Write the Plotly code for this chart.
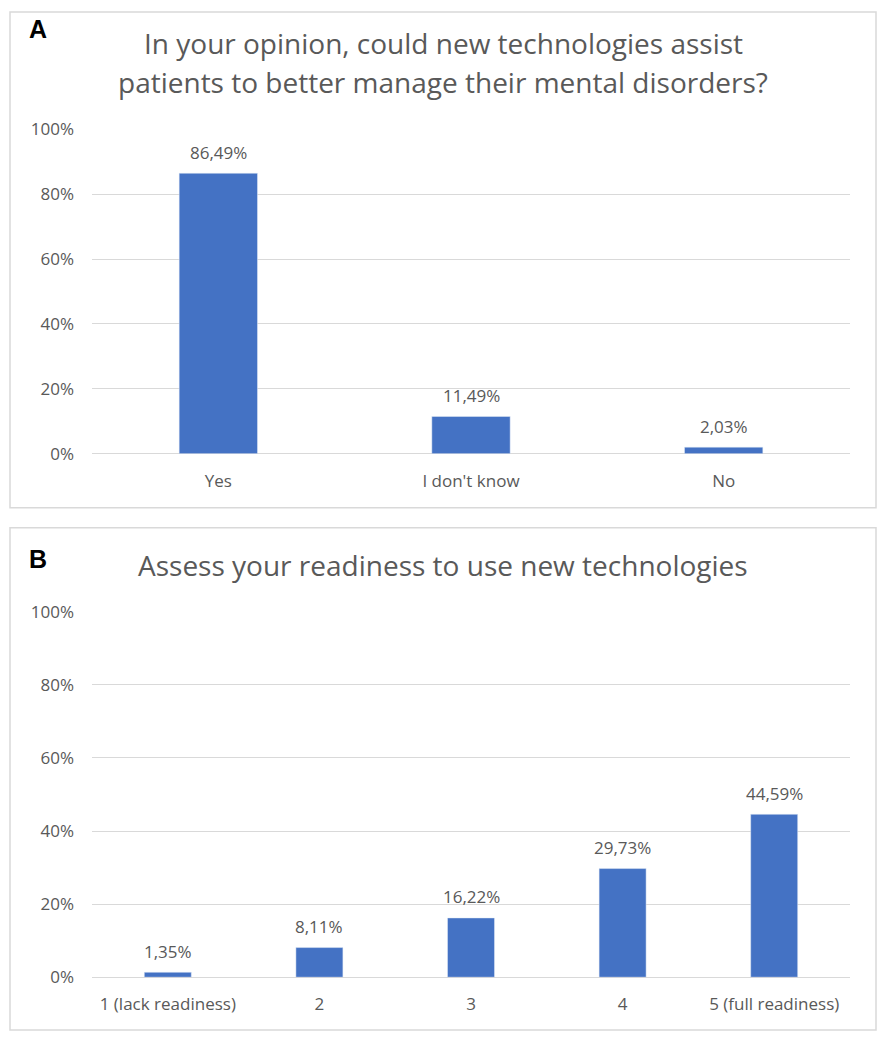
import plotly.graph_objects as go

# dados
cats_a = ["Yes", "I don't know", "No"]
vals_a = [86.49, 11.49, 2.03]

cats_b = ["1 (lack readiness)", "2", "3", "4", "5 (full readiness)"]
vals_b = [1.35, 8.11, 16.22, 29.73, 44.59]

y_ticks = [0, 20, 40, 60, 80, 100]

W, H = 886, 1041
BLUE = "#4472C4"
GRID = "#d9d9d9"
TXT = "#595959"
FONT = "Open Sans"

# a captura sai um pouco comprimida na vertical; compensar
S, OFF = 0.977, 12.7


def py(p):
    # pixel desejado na imagem -> coordenada paper (y)
    q = (p - OFF) / S
    return min(1.0, max(0.0, 1 - q / H))


def px_(p):
    return p / W


def fmt(v):
    return f"{v:.2f}".replace(".", ",") + "%"


fig = go.Figure()

fig.add_trace(go.Bar(x=cats_a, y=vals_a, marker_color=BLUE, width=0.31,
                     xaxis="x", yaxis="y", hoverinfo="x+y"))
fig.add_trace(go.Bar(x=cats_b, y=vals_b, marker_color=BLUE, width=0.31,
                     xaxis="x2", yaxis="y2", hoverinfo="x+y"))

# rótulos dos valores (posição pelo índice da categoria)
for cats, vals, xr, yr in [(cats_a, vals_a, "x", "y"), (cats_b, vals_b, "x2", "y2")]:
    for i, v in enumerate(vals):
        fig.add_annotation(x=i, y=v, xref=xr, yref=yr, text=fmt(v),
                           showarrow=False, yshift=21, yanchor="middle",
                           font=dict(size=17, color=TXT, family=FONT))

axis_y = dict(range=[0, 100], tickvals=y_ticks,
              ticktext=[f"{t}%" for t in y_ticks],
              showgrid=True, gridcolor=GRID, gridwidth=1,
              zeroline=True, zerolinecolor=GRID, zerolinewidth=1,
              showline=False, ticks="", ticklabelstandoff=17,
              tickfont=dict(size=17, color=TXT, family=FONT))
axis_x = dict(type="category", showline=False, showgrid=False, ticks="",
              ticklabelstandoff=15,
              tickfont=dict(size=17, color=TXT, family=FONT))

dom_x = [px_(92), px_(850)]

fig.update_layout(
    width=W, height=H,
    margin=dict(l=0, r=0, t=0, b=0),
    paper_bgcolor="white", plot_bgcolor="white",
    showlegend=False,
    xaxis=dict(domain=dom_x, anchor="y", **axis_x),
    yaxis=dict(domain=[py(454), py(130)], anchor="x", **axis_y),
    xaxis2=dict(domain=dom_x, anchor="y2", **axis_x),
    yaxis2=dict(domain=[py(977), py(612)], anchor="x2", **axis_y),
)

# caixas dos painéis
for top, bot in [(5, 508), (528, 1033)]:
    fig.add_shape(type="rect", xref="paper", yref="paper",
                  x0=px_(10), x1=px_(876), y0=py(bot), y1=py(top),
                  line=dict(color=GRID, width=1.5))

# títulos
titles = [
    ("In your opinion, could new technologies assist", 44),
    ("patients to better manage their mental disorders?", 83),
    ("Assess your readiness to use new technologies", 565),
]
for t, yp in titles:
    fig.add_annotation(text=t, xref="paper", yref="paper",
                       x=px_(443), y=py(yp), xanchor="center", yanchor="middle",
                       showarrow=False, font=dict(size=28, color=TXT, family=FONT))

# letras dos painéis
for lbl, yp in [("A", 30), ("B", 559)]:
    fig.add_annotation(text=f"<b>{lbl}</b>", xref="paper", yref="paper",
                       x=px_(38), y=py(yp), xanchor="center", yanchor="middle",
                       showarrow=False,
                       font=dict(size=25, color="black", family="Liberation Sans"))

fig.write_html("out.html", config={"displayModeBar": False},
               post_script="document.body.style.margin='0px';"
                           "document.body.style.overflow='hidden';")
